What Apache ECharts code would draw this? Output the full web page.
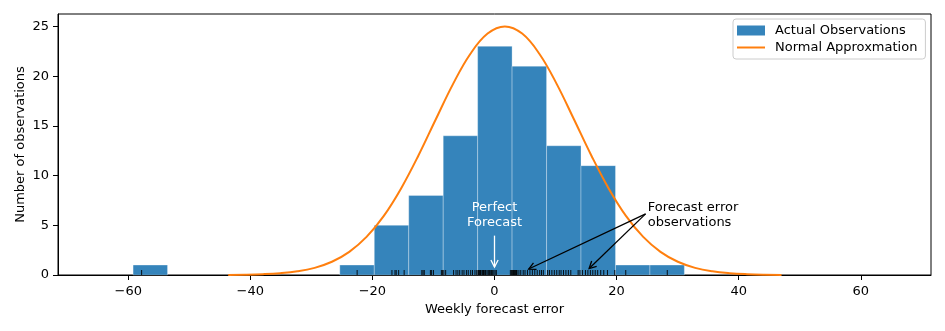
<!DOCTYPE html>
<html>
<head>
<meta charset="utf-8">
<script src="https://cdn.jsdelivr.net/npm/echarts@6/dist/echarts.min.js"></script>
<style>
html,body{margin:0;padding:0;background:#fff;}
#chart{width:945px;height:331px;}
</style>
</head>
<body>
<div id="chart"></div>
<script>
// ---- data ----
const binEdges = [-59.2, -53.56, -47.91, -42.27, -36.62, -30.98, -25.34, -19.69, -14.05, -8.40, -2.76, 2.88, 8.53, 14.17, 19.82, 25.46, 31.10];
const binCounts = [1, 0, 0, 0, 0, 0, 1, 5, 8, 14, 23, 21, 13, 11, 1, 1];

const curveX = [-43.62, -40.79, -37.96, -35.12, -32.29, -29.46, -26.63, -23.79, -20.96, -18.13, -15.30, -12.46, -9.63, -6.80, -3.97, -1.13, 1.70, 4.53, 7.37, 10.20, 13.03, 15.86, 18.70, 21.53, 24.36, 27.19, 30.03, 32.86, 35.69, 38.52, 41.36, 44.19, 47.02];
const curveY = [0.01, 0.03, 0.08, 0.18, 0.37, 0.72, 1.33, 2.33, 3.83, 5.95, 8.71, 12.02, 15.64, 19.20, 22.23, 24.28, 25.00, 24.28, 22.23, 19.20, 15.64, 12.02, 8.71, 5.95, 3.83, 2.33, 1.33, 0.72, 0.37, 0.18, 0.08, 0.03, 0.01];

const observations = [
  -57.8,
  -22.5,
  -16.8, -16.3, -16.1, -15.7, -14.8,
  -11.9, -11.7, -11.5, -10.5, -10.3, -10.0, -8.7, -8.5,
  -8.3, -8.0, -6.7, -6.3, -6.0, -5.7, -5.3, -5.0, -4.6, -4.3, -3.9, -3.6, -3.2, -2.9,
  -2.7, -2.6, -2.5, -2.4, -2.3, -2.2, -2.0, -1.9, -1.8, -1.6, -1.5, -1.4, -1.2, -1.0, -0.8, -0.7, -0.5, -0.3, -0.1, 0.1, 0.3, 2.6, 2.8,
  2.9, 3.0, 3.1, 3.2, 3.3, 3.4, 3.5, 3.6, 3.7, 4.0, 4.3, 4.7, 5.0, 5.4, 5.8, 6.2, 6.6, 7.0, 7.4, 7.7, 8.0,
  8.7, 9.0, 9.4, 9.8, 10.2, 10.6, 10.9, 11.3, 11.7, 12.1, 12.5, 13.7, 14.0,
  14.4, 14.9, 15.3, 15.7, 16.1, 16.5, 16.9, 17.4, 17.9, 18.5, 19.7,
  21.5,
  28.3
];

const xTicks = [-60, -40, -20, 0, 20, 40, 60];
const yTicks = [0, 5, 10, 15, 20, 25];

const seriesNames = ['Actual Observations', 'Normal Approxmation'];
const xAxisTitle = 'Weekly forecast error';
const yAxisTitle = 'Number of observations';

// annotation texts and anchor points (data units)
const perfectText = 'Perfect\nForecast';
const perfectTextAt = [0, 6.05];
const perfectArrow = [[0, 3.96], [0, 0.8]];
const errorText = 'Forecast error\nobservations';
const errorTextAt = [25.1, 6.0];
const errorArrows = [[[24.75, 6.15], [5.6, 0.6]], [[24.75, 6.15], [15.5, 0.65]]];

// ---- chart ----
const FONT = '"DejaVu Sans", sans-serif';
const BLUE = 'rgba(31,119,180,0.9)';
const ORANGE = '#ff7f0e';

const histData = [];
binCounts.forEach((c, i) => { if (c > 0) histData.push([binEdges[i], binEdges[i + 1], c]); });

function fmt(v) { return v < 0 ? '\u2212' + Math.abs(v) : String(v); }

function arrowGroup(api, from, to, color) {
  const a = api.coord(from), b = api.coord(to);
  const dx = b[0] - a[0], dy = b[1] - a[1];
  const L = Math.sqrt(dx * dx + dy * dy);
  const ux = dx / L, uy = dy / L;
  const hl = 7, hw = 3.6;
  const bx = b[0] - ux * hl, by = b[1] - uy * hl;
  const px = -uy * hw, py = ux * hw;
  return [
    { type: 'line', shape: { x1: a[0], y1: a[1], x2: b[0], y2: b[1] }, style: { stroke: color, lineWidth: 1.3 } },
    { type: 'polyline', shape: { points: [[bx + px, by + py], [b[0], b[1]], [bx - px, by - py]] }, style: { stroke: color, lineWidth: 1.3, fill: null } }
  ];
}

const chart = echarts.init(document.getElementById('chart'), null, { renderer: 'canvas' });

chart.setOption({
  animation: false,
  textStyle: { fontFamily: FONT },
  grid: { left: 58, right: 14, top: 14, bottom: 56, show: true, borderColor: '#000', borderWidth: 1, backgroundColor: 'transparent' },
  legend: {
    orient: 'vertical',
    left: 733,
    top: 19,
    padding: [5, 8, 5, 4],
    itemGap: 4,
    itemWidth: 28,
    itemHeight: 10,
    symbolKeepAspect: true,
    backgroundColor: 'rgba(255,255,255,0.85)',
    borderColor: '#cccccc',
    borderWidth: 1,
    borderRadius: 3,
    textStyle: { fontFamily: FONT, fontSize: 13, color: '#000', padding: [0, 0, 0, 5] },
    data: [
      { name: seriesNames[0], icon: 'rect' },
      { name: seriesNames[1], icon: 'path://M0,0 L28,0 L28,2 L0,2 Z' }
    ]
  },
  xAxis: {
    type: 'value',
    min: -71.5,
    max: 71.5,
    name: xAxisTitle,
    nameLocation: 'middle',
    nameGap: 28,
    nameMoveOverlap: false,
    nameTextStyle: { fontFamily: FONT, fontSize: 13, color: '#000' },
    axisLine: { show: true, onZero: false, lineStyle: { color: '#000', width: 1 } },
    axisTick: { show: true, length: 5, lineStyle: { color: '#000' }, customValues: xTicks },
    axisLabel: { fontFamily: FONT, fontSize: 13, color: '#000', margin: 10, customValues: xTicks, formatter: fmt },
    splitLine: { show: false }
  },
  yAxis: {
    type: 'value',
    min: 0,
    max: 26.25,
    name: yAxisTitle,
    nameLocation: 'middle',
    nameGap: 31,
    nameMoveOverlap: false,
    nameRotate: 90,
    nameTextStyle: { fontFamily: FONT, fontSize: 13, color: '#000' },
    axisLine: { show: true, onZero: false, lineStyle: { color: '#000', width: 1 } },
    axisTick: { show: true, length: 5, lineStyle: { color: '#000' }, customValues: yTicks },
    axisLabel: { fontFamily: FONT, fontSize: 13, color: '#000', margin: 9, customValues: yTicks, formatter: fmt },
    splitLine: { show: false }
  },
  series: [
    {
      name: seriesNames[0],
      type: 'custom',
      itemStyle: { color: BLUE },
      encode: { x: [0, 1], y: 2 },
      data: histData,
      z: 2,
      renderItem: function (params, api) {
        const p0 = api.coord([api.value(0), api.value(2)]);
        const p1 = api.coord([api.value(1), 0]);
        return {
          type: 'rect',
          shape: { x: p0[0], y: p0[1], width: p1[0] - p0[0], height: p1[1] - p0[1] },
          style: { fill: BLUE, stroke: 'rgba(255,255,255,0.3)', lineWidth: 1 }
        };
      }
    },
    {
      name: seriesNames[1],
      type: 'line',
      smooth: 0.4,
      symbol: 'none',
      z: 3,
      itemStyle: { color: ORANGE },
      lineStyle: { color: ORANGE, width: 2 },
      data: curveX.map((x, i) => [x, curveY[i]])
    },
    {
      name: 'rug',
      type: 'custom',
      z: 4,
      encode: { x: 0, y: 1 },
      data: observations.map(v => [v, 0]),
      renderItem: function (params, api) {
        const p = api.coord([api.value(0), 0]);
        return {
          type: 'line',
          shape: { x1: p[0], y1: p[1], x2: p[0], y2: p[1] - 5 },
          style: { stroke: '#000', lineWidth: 0.9 }
        };
      }
    },
    {
      name: 'annotations',
      type: 'custom',
      z: 5,
      clip: false,
      encode: { x: 0, y: 1 },
      data: [[0, 0]],
      renderItem: function (params, api) {
        const children = [];
        const pt = api.coord(perfectTextAt);
        children.push({ type: 'text', x: pt[0], y: pt[1], style: { text: perfectText, fill: '#fff', fontSize: 13, fontFamily: FONT, align: 'center', verticalAlign: 'middle', lineHeight: 15 } });
        arrowGroup(api, perfectArrow[0], perfectArrow[1], '#fff').forEach(c => children.push(c));
        const et = api.coord(errorTextAt);
        children.push({ type: 'text', x: et[0], y: et[1], style: { text: errorText, fill: '#000', fontSize: 13, fontFamily: FONT, align: 'left', verticalAlign: 'middle', lineHeight: 15 } });
        errorArrows.forEach(ar => arrowGroup(api, ar[0], ar[1], '#000').forEach(c => children.push(c)));
        return { type: 'group', children: children };
      }
    }
  ]
});
</script>
</body>
</html>
